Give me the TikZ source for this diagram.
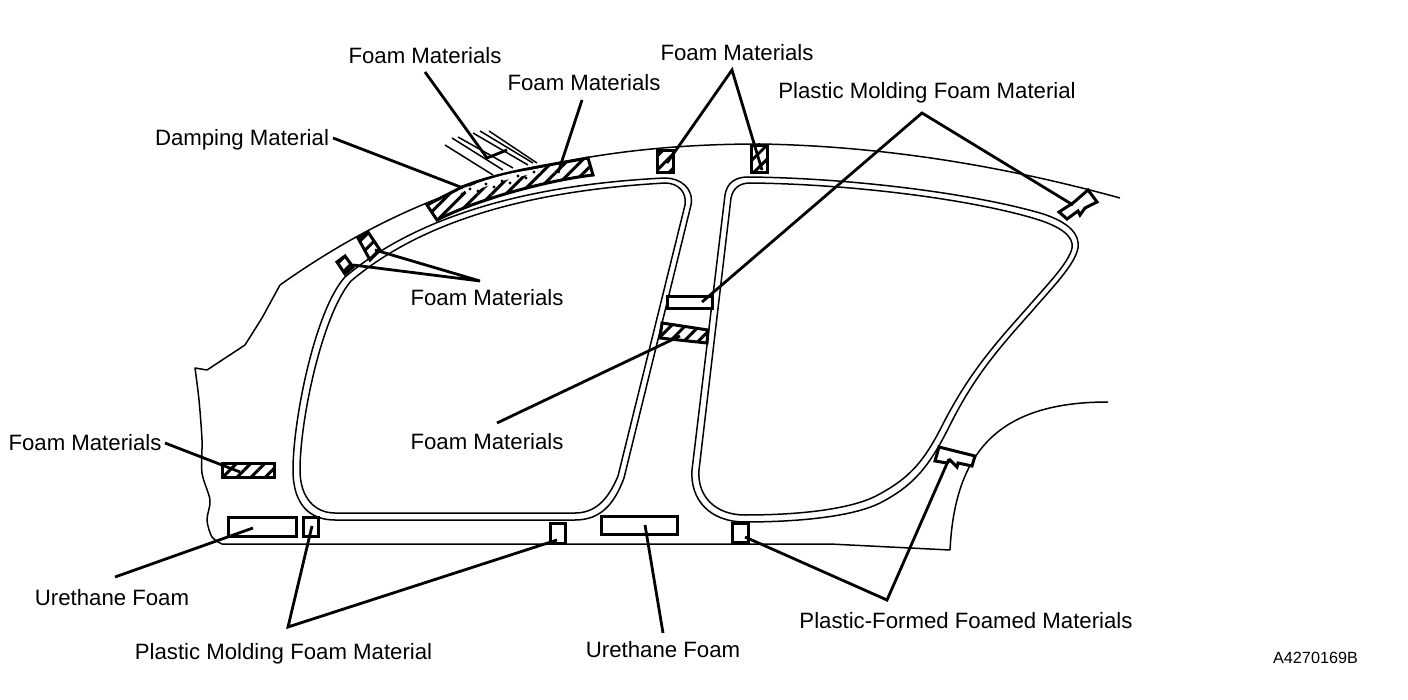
\documentclass[tikz,border=0pt]{standalone}
\usepackage{fontspec}
\setmainfont{Liberation Sans}
\usetikzlibrary{patterns.meta}
\tikzset{
  lbl/.style={inner sep=0pt,font=\fontsize{22.2}{26}\selectfont},
  thinline/.style={line width=1.5pt,line join=round},
  leader/.style={line width=2.8pt},
  part/.style={line width=3pt,fill=white,line join=miter},
  hatched/.style={part,postaction={pattern={Lines[angle=45,distance=10pt,line width=3pt]},pattern color=black}},
  partbox/.style={draw,part,inner sep=0pt}
}
\begin{document}
\begin{tikzpicture}[x=1pt,y=-1pt]
    \useasboundingbox (0,0) rectangle (1408,700);
    % body
    \draw[thinline] plot[smooth,tension=.5] coordinates {(222,544) (212,537) (207,520) (210,500) (202,473) (202,440) (199,400) (195,368)}
      -- (207,370) -- (245,345) -- (262,318) -- (280,285);
    \draw[thinline] (280,285) .. controls (400,200) and (540,144) .. (760,144) .. controls (880,146) and (1000,165) .. (1120,198);
    \draw[thinline] (222,544) -- (830,544) -- (950,550);
    \draw[thinline] (950,550) .. controls (955,450) and (1000,402) .. (1108,402);
    % left window
    \draw[thinline] (335,520) -- (575,520) .. controls (600,520) and (614,505) .. (624,478) -- (691,205)
      .. controls (694,188) and (680,178) .. (665,178) .. controls (560,183) and (430,205) .. (345,277)
      .. controls (315,310) and (293,420) .. (293,470) .. controls (293,505) and (310,520) .. (335,520) -- cycle;
    \draw[thinline] (335,513) -- (575,513) .. controls (595,513) and (608,500) .. (618,476) -- (685,205)
      .. controls (687,192) and (678,183) .. (665,183) .. controls (560,189) and (435,210) .. (351,281)
      .. controls (322,315) and (300,420) .. (300,470) .. controls (300,498) and (315,513) .. (335,513) -- cycle;
    % right window
    \draw[thinline] (748,177) .. controls (850,178) and (970,193) .. (1040,213) .. controls (1070,222) and (1080,235) .. (1078,248)
      .. controls (1075,265) and (1050,290) .. (1033,310) .. controls (1000,347) and (975,375) .. (950,425)
      .. controls (930,465) and (915,485) .. (880,503) .. controls (850,518) and (790,522) .. (745,522)
      .. controls (710,522) and (690,500) .. (692,470) -- (725,195) .. controls (727,183) and (735,177) .. (748,177) -- cycle;
    \draw[thinline] (750,183) .. controls (850,184) and (970,199) .. (1036,219) .. controls (1062,227) and (1074,237) .. (1072,248)
      .. controls (1069,263) and (1045,287) .. (1028,307) .. controls (995,344) and (970,372) .. (944,422)
      .. controls (924,462) and (910,478) .. (876,496) .. controls (846,511) and (790,515) .. (745,515)
      .. controls (715,515) and (697,496) .. (699,470) -- (731,198) .. controls (733,188) and (740,183) .. (750,183) -- cycle;
    % fan of lines on the roof
    \draw[thinline] (445,145) -- (493,175);
    \draw[thinline] (452,138) -- (503,170);
    \draw[thinline] (458,137) -- (513,168);
    \draw[thinline] (473,133) -- (528,165);
    \draw[thinline] (480,131) -- (533,163);
    \draw[thinline] (489,131) -- (537,163);
    % parts
    \draw[hatched] (427,205) -- (462,187) .. controls (500,172) and (550,165) .. (588,158) -- (593,175)
      .. controls (550,180) and (480,198) .. (437,220) -- cycle;
    \fill[white] (464,189) .. controls (490,177) and (515,172) .. (538,169) -- (540,173) .. controls (515,176) and (490,184) .. (467,194) -- cycle;
    \foreach \x/\y in {462/194,470/189,478/191,486/184,494/187,502/181,510/183,518/176,526/178,534/172}
      \fill (\x,\y) circle (1.7pt);
    \draw[hatched] (358,238) -- (368,232) -- (380,250) -- (370,260) -- cycle;
    \draw[hatched] (337,262) -- (345,256) -- (353,267) -- (345,274) -- cycle;
    \draw[hatched] (657,151) rectangle (673,173);
    \draw[hatched] (751,146) rectangle (767,173);
    \draw[hatched] (662,323) -- (708,330) -- (707,343) -- (660,338) -- cycle;
    \draw[hatched] (222,463) rectangle (274,477);
    \draw[part] (1088,190) -- (1097,202) -- (1085,208) -- (1080,215) -- (1078,211) -- (1067,219) -- (1059,212) -- (1073,203) -- cycle;
    \draw[part] (939,447) -- (975,456) -- (972,466) -- (958,463) -- (957,467) -- (950,460) -- (947,463) -- (935,461) -- cycle;
    \node[partbox,minimum width=45pt,minimum height=12pt] (pmb) at (689.5,303) {};
    \node[partbox,minimum width=68pt,minimum height=19pt] (ufl) at (262,526.5) {};
    \node[partbox,minimum width=76pt,minimum height=18pt] (ufc) at (639,525) {};
    \node[partbox,minimum width=15pt,minimum height=19pt] (pml) at (310.5,526.5) {};
    \node[partbox,minimum width=15pt,minimum height=20pt] (pmc) at (557.5,533) {};
    \node[partbox,minimum width=16pt,minimum height=19pt] (pfl) at (740,532.5) {};
    % labels
    \node[lbl] (fma) at (425,55.7) {Foam Materials};
    \node[lbl] (fmb) at (584,82.7) {Foam Materials};
    \node[lbl] (fmc) at (737,52.5) {Foam Materials};
    \node[lbl] (dam) at (242,139.5) {Damping Material};
    \node[lbl] (pmt) at (927,92.7) {Plastic Molding Foam Material};
    \node[lbl] (fmd) at (487,297.7) {Foam Materials};
    \node[lbl] (fme) at (487,441.7) {Foam Materials};
    \node[lbl] (fmf) at (85,442.7) {Foam Materials};
    \node[lbl] (ura) at (112,597.7) {Urethane Foam};
    \node[lbl] (urb) at (663,649.7) {Urethane Foam};
    \node[lbl] (pmu) at (283.5,653.7) {Plastic Molding Foam Material};
    \node[lbl] (pfm) at (966,620.7) {Plastic-Formed Foamed Materials};
    \node[lbl,font=\fontsize{16.2}{19}\selectfont] (num) at (1315.5,657.5) {A4270169B};
    % leader ends
    \coordinate (apc) at (732,70);
    \coordinate (apt) at (922,113);
    \coordinate (apd) at (480,281);
    \coordinate (apu) at (288,627);
    \coordinate (apf) at (887,600);
    \coordinate (ena) at (487,158);
    \coordinate (enb) at (558,173);
    \coordinate (end) at (463,188);
    \coordinate (enc) at (667,163);
    \coordinate (ene) at (762,170);
    \coordinate (eng) at (1073,205);
    \coordinate (enh) at (949,459);
    \coordinate (enk) at (375,250);
    \coordinate (enm) at (353,265);
    \coordinate (enf) at (680,336);
    \coordinate (enr) at (240,472);
    \coordinate (enl) at (253,528);
    \coordinate (enu) at (645,525);
    \coordinate (ens) at (702,302);
    % leaders
    \draw[leader] (425,72) -- (ena) -- (507,150);
    \draw[leader] (582,100) -- (enb);
    \draw[leader] (333,138) -- (end);
    \draw[leader] (enc) -- (apc) -- (ene);
    \draw[leader] (ens) -- (apt) -- (eng);
    \draw[leader] (enk) -- (apd) -- (enm);
    \draw[leader] (497,423) -- (enf);
    \draw[leader] (165,443) -- (enr);
    \draw[leader] (115,577) -- (enl);
    \draw[leader] (663,633) -- (enu);
    \draw[leader] (312,526) -- (apu) -- (557,540);
    \draw[leader] (enh) -- (apf) -- (745,537);
\end{tikzpicture}
\end{document}
